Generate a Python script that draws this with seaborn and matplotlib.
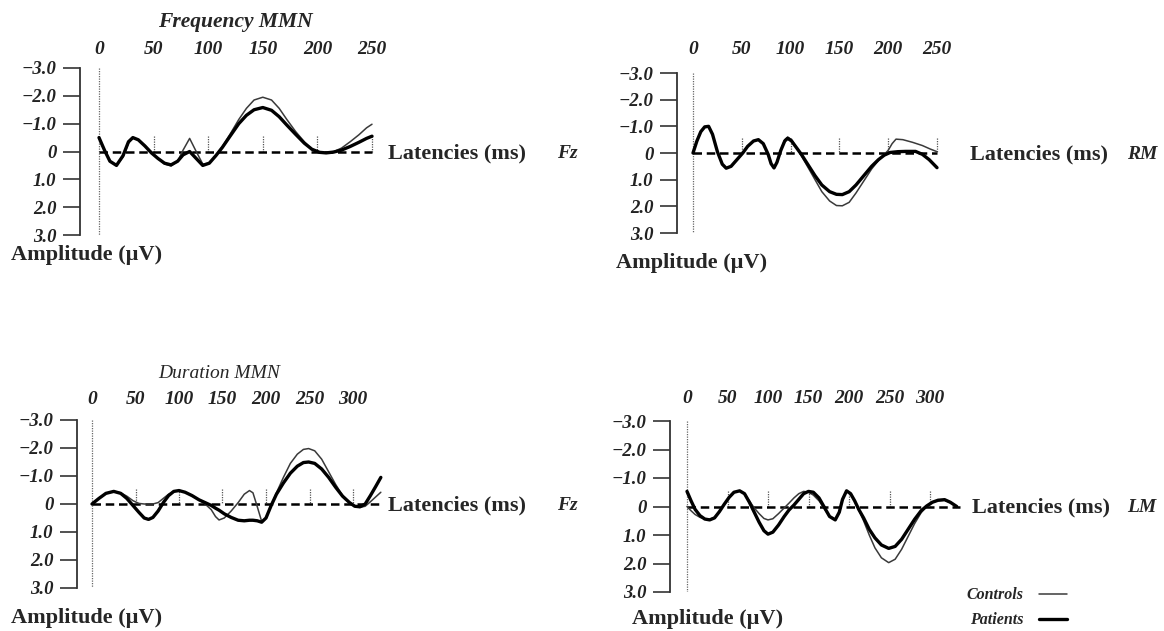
import numpy as np
import pandas as pd
import seaborn as sns
import matplotlib.pyplot as plt
from matplotlib.lines import Line2D

W, H = 1164, 631

# Data (amplitude in uV, latency in ms)

# Frequency MMN - Fz
FREQ_FZ_T = [0, 5, 10, 16, 22, 27, 31, 36, 42, 48, 54, 60, 66, 72, 77, 83, 89, 95, 101, 107,
             113, 120, 128, 135, 142, 150, 158, 165, 172, 180, 188, 195, 202, 208, 215, 222,
             230, 238, 245, 250]
FREQ_FZ_CONTROLS = [-0.5, -0.05, 0.35, 0.5, 0.2, -0.3, -0.48, -0.42, -0.22, 0.02, 0.25, 0.45,
                    0.52, 0.35, -0.05, -0.47, 0.0, 0.45, 0.42, 0.15, -0.18, -0.62, -1.15, -1.55,
                    -1.85, -1.95, -1.85, -1.55, -1.15, -0.72, -0.35, -0.08, 0.03, 0.05, 0.0,
                    -0.12, -0.35, -0.6, -0.85, -0.98]
FREQ_FZ_PATIENTS = [-0.5, -0.05, 0.35, 0.5, 0.15, -0.35, -0.5, -0.42, -0.2, 0.05, 0.25, 0.42,
                    0.48, 0.35, 0.12, 0.0, 0.25, 0.5, 0.42, 0.15, -0.15, -0.55, -1.0, -1.3,
                    -1.5, -1.58, -1.48, -1.25, -0.95, -0.62, -0.3, -0.08, 0.03, 0.05, 0.02,
                    -0.05, -0.18, -0.33, -0.47, -0.55]

# Frequency MMN - RM
FREQ_RM_T_C = [0, 4, 8, 12, 16, 20, 25, 30, 34, 39, 45, 51, 56, 62, 67, 72, 77, 80, 83, 86, 90,
               94, 97, 101, 106, 111, 118, 125, 132, 140, 147, 153, 160, 167, 175, 183, 190,
               196, 200, 204, 208, 215, 225, 235, 243, 250]
FREQ_RM_CONTROLS = [0.0, -0.45, -0.8, -0.98, -1.0, -0.7, -0.05, 0.42, 0.57, 0.5, 0.25, 0.0,
                    -0.25, -0.45, -0.5, -0.35, 0.05, 0.4, 0.55, 0.35, -0.12, -0.5, -0.6, -0.5,
                    -0.2, 0.1, 0.55, 1.0, 1.45, 1.8, 1.97, 1.98, 1.85, 1.5, 1.05, 0.6, 0.28,
                    0.05, -0.1, -0.35, -0.52, -0.5, -0.4, -0.28, -0.15, -0.05]
FREQ_RM_T_P = [0, 4, 8, 12, 16, 20, 25, 30, 34, 39, 45, 51, 56, 62, 67, 72, 77, 80, 83, 86, 90,
               94, 97, 101, 106, 111, 118, 125, 132, 140, 147, 153, 160, 167, 175, 183, 190,
               196, 202, 210, 218, 228, 235, 242, 250]
FREQ_RM_PATIENTS = [0.0, -0.45, -0.8, -0.98, -1.0, -0.7, -0.05, 0.42, 0.57, 0.5, 0.25, 0.0,
                    -0.25, -0.45, -0.5, -0.35, 0.05, 0.4, 0.56, 0.35, -0.1, -0.45, -0.55, -0.45,
                    -0.2, 0.05, 0.45, 0.85, 1.2, 1.45, 1.55, 1.56, 1.45, 1.2, 0.85, 0.5, 0.25,
                    0.08, -0.02, -0.05, -0.06, -0.06, 0.05, 0.25, 0.55]

# Duration MMN - Fz
DUR_FZ_T = [0, 8, 16, 25, 33, 40, 47, 54, 60, 65, 70, 76, 82, 88, 94, 100, 107, 115, 123, 130,
            137, 142, 146, 152, 160, 168, 175, 181, 185, 190, 195, 200, 206, 212, 220, 228, 236,
            243, 249, 256, 264, 272, 280, 288, 296, 302, 308, 314, 320, 326, 332]
DUR_FZ_CONTROLS = [0.0, -0.2, -0.38, -0.45, -0.4, -0.28, -0.12, -0.02, 0.0, 0.0, 0.0, -0.05,
                   -0.2, -0.35, -0.45, -0.48, -0.42, -0.3, -0.15, 0.0, 0.2, 0.45, 0.57, 0.5,
                   0.25, -0.05, -0.35, -0.48, -0.4, 0.1, 0.62, 0.5, 0.05, -0.4, -0.95, -1.45,
                   -1.78, -1.95, -1.98, -1.9, -1.6, -1.15, -0.7, -0.3, -0.05, 0.08, 0.12, 0.08,
                   -0.08, -0.25, -0.42]
DUR_FZ_PATIENTS = [0.0, -0.2, -0.38, -0.45, -0.38, -0.2, 0.05, 0.3, 0.5, 0.55, 0.48, 0.25,
                   -0.05, -0.3, -0.45, -0.48, -0.42, -0.3, -0.15, -0.05, 0.05, 0.15, 0.22, 0.35,
                   0.48, 0.58, 0.6, 0.58, 0.58, 0.6, 0.65, 0.5, 0.05, -0.35, -0.75, -1.1, -1.35,
                   -1.48, -1.5, -1.45, -1.25, -0.95, -0.6, -0.28, -0.05, 0.08, 0.1, 0.0, -0.3,
                   -0.62, -0.95]

# Duration MMN - LM
DUR_LM_T = [0, 5, 10, 16, 22, 28, 34, 40, 46, 52, 58, 65, 71, 77, 83, 89, 95, 100, 106, 113,
            120, 126, 132, 138, 144, 150, 156, 163, 170, 176, 183, 188, 192, 197, 202, 207, 212,
            218, 225, 232, 240, 249, 257, 265, 273, 281, 289, 296, 303, 310, 318, 325, 333]
DUR_LM_CONTROLS = [0.0, 0.15, 0.28, 0.38, 0.44, 0.45, 0.38, 0.18, -0.08, -0.32, -0.5, -0.55,
                   -0.45, -0.2, 0.05, 0.25, 0.42, 0.47, 0.43, 0.25, 0.05, -0.12, -0.3, -0.45,
                   -0.53, -0.5, -0.4, -0.2, 0.1, 0.35, 0.45, 0.2, -0.25, -0.55, -0.45, -0.2,
                   0.12, 0.5, 1.0, 1.45, 1.8, 1.97, 1.85, 1.5, 1.05, 0.6, 0.22, 0.0, -0.15,
                   -0.2, -0.22, -0.14, 0.0]
DUR_LM_PATIENTS = [-0.53, -0.2, 0.1, 0.32, 0.44, 0.47, 0.4, 0.18, -0.08, -0.32, -0.5, -0.55,
                   -0.45, -0.15, 0.2, 0.55, 0.85, 0.97, 0.9, 0.65, 0.35, 0.12, -0.05, -0.25,
                   -0.45, -0.53, -0.5, -0.3, 0.05, 0.35, 0.47, 0.2, -0.25, -0.55, -0.45, -0.2,
                   0.1, 0.4, 0.8, 1.1, 1.35, 1.47, 1.4, 1.15, 0.8, 0.45, 0.15, -0.02, -0.15,
                   -0.22, -0.24, -0.15, 0.0]

Y_TICKS = [-3, -2, -1, 0, 1, 2, 3]
Y_LABELS = ["\u22123.0", "\u22122.0", "\u22121.0", "0", "1.0", "2.0", "3.0"]
X_TICKS_FREQ = [0, 50, 100, 150, 200, 250]
X_TICKS_DUR = [0, 50, 100, 150, 200, 250, 300]

SERIF = ["Liberation Serif", "DejaVu Serif"]
THIN_C = "#3a3a3a"


def fpos(x, y):
    # pixel (from top-left) -> figure fraction
    return x / W, 1 - y / H


def draw_panel(fig, p):
    xmin = -(p["x0"] - p["spine"]) / p["scale"]
    left = p["spine"] / W
    width = (p["xmax"] - xmin) * p["scale"] / W
    bottom = 1 - p["ybot"] / H
    height = (p["ybot"] - p["ytop"]) / H
    ax = fig.add_axes([left, bottom, width, height])
    ax.set_xlim(xmin, p["xmax"])
    ax.set_ylim(3, -3)

    # reference lines
    ax.vlines(0, -3, 3, colors="#666666", linestyles=(0, (1, 1)), lw=0.9)
    ax.vlines(p["xticks"][1:], -0.55, 0, colors="#555555", linestyles=(0, (1, 1)), lw=0.9)
    ax.plot([0, p["zero_end"]], [0, 0], color="black", lw=1.8, ls=(0, (3.4, 1.9)))

    df_c = pd.DataFrame({"t": p["t_c"], "amp": p["controls"]})
    df_p = pd.DataFrame({"t": p["t_p"], "amp": p["patients"]})
    sns.lineplot(data=df_c, x="t", y="amp", ax=ax, color=THIN_C, lw=1.1,
                 estimator=None, sort=False, solid_joinstyle="round")
    sns.lineplot(data=df_p, x="t", y="amp", ax=ax, color="black", lw=2.4,
                 estimator=None, sort=False, solid_joinstyle="round", solid_capstyle="round")
    ax.set_xlabel("")
    ax.set_ylabel("")

    for s in ["top", "right", "bottom"]:
        ax.spines[s].set_visible(False)
    ax.spines["left"].set_bounds(-3, 3)
    ax.spines["left"].set_color("#333333")
    ax.spines["left"].set_linewidth(1.3)

    ax.set_yticks(Y_TICKS)
    ax.set_yticklabels(Y_LABELS, family=SERIF, weight="bold", style="italic", fontsize=13.5)
    ax.tick_params(axis="y", left=True, direction="out", length=12, width=1.2,
                   color="#333333", pad=5, labelcolor="#222222")

    ax.xaxis.set_ticks_position("top")
    ax.set_xticks(p["xticks"])
    ax.set_xticklabels([str(v) for v in p["xticks"]], family=SERIF, weight="bold",
                       style="italic", fontsize=14)
    ax.tick_params(axis="x", top=True, length=0, pad=p["xpad"], labelcolor="#222222")
    ax.patch.set_alpha(0)
    ax.grid(False)

    # axis texts
    fig.text(*fpos(*p["amp_xy"]), "Amplitude (\u00b5V)", family=SERIF, weight="bold",
             fontsize=16, ha="left", va="baseline")
    fig.text(*fpos(*p["lat_xy"]), "Latencies (ms)", family=SERIF, weight="bold",
             fontsize=16, ha="left", va="baseline")
    fig.text(*fpos(*p["site_xy"]), p["site"], family=SERIF, weight="bold", style="italic",
             fontsize=14, ha="left", va="baseline")
    return ax


def main():
    sns.set_style("white")
    plt.rcParams["font.family"] = SERIF

    fig = plt.figure(figsize=(W / 100, H / 100), dpi=100)

    panels = [
        dict(spine=80, x0=99, scale=1.092, ytop=68, ybot=235, xmax=262, zero_end=250,
             xticks=X_TICKS_FREQ, xpad=7, t_c=FREQ_FZ_T, controls=FREQ_FZ_CONTROLS,
             t_p=FREQ_FZ_T, patients=FREQ_FZ_PATIENTS, amp_xy=(11, 260),
             lat_xy=(388, 158), site_xy=(557, 158), site="Fz"),
        dict(spine=677, x0=693, scale=0.976, ytop=73, ybot=233, xmax=262, zero_end=250,
             xticks=X_TICKS_FREQ, xpad=11, t_c=FREQ_RM_T_C, controls=FREQ_RM_CONTROLS,
             t_p=FREQ_RM_T_P, patients=FREQ_RM_PATIENTS, amp_xy=(616, 268),
             lat_xy=(970, 159), site_xy=(1127, 159), site="RM"),
        dict(spine=77, x0=92, scale=0.87, ytop=420, ybot=588, xmax=345, zero_end=332,
             xticks=X_TICKS_DUR, xpad=9, t_c=DUR_FZ_T, controls=DUR_FZ_CONTROLS,
             t_p=DUR_FZ_T, patients=DUR_FZ_PATIENTS, amp_xy=(11, 623),
             lat_xy=(388, 510), site_xy=(557, 510), site="Fz"),
        dict(spine=670, x0=687, scale=0.81, ytop=421, ybot=592, xmax=345, zero_end=337,
             xticks=X_TICKS_DUR, xpad=10, t_c=DUR_LM_T, controls=DUR_LM_CONTROLS,
             t_p=DUR_LM_T, patients=DUR_LM_PATIENTS, amp_xy=(632, 624),
             lat_xy=(972, 512), site_xy=(1127, 512), site="LM"),
    ]
    for p in panels:
        draw_panel(fig, p)

    # titles
    fig.text(*fpos(235, 22), "Frequency MMN", family=SERIF, weight="bold", style="italic",
             fontsize=15.5, ha="center", va="center")
    fig.text(*fpos(219, 374), "Duration MMN", family=SERIF, style="italic",
             fontsize=14, ha="center", va="center")

    # legend (text before line)
    handles = [Line2D([], [], color=THIN_C, lw=1.1), Line2D([], [], color="black", lw=2.4)]
    fig.legend(handles, ["Controls", "Patients"], markerfirst=False, frameon=False,
               loc="upper left", bbox_to_anchor=fpos(952, 573), handlelength=1.7,
               handletextpad=1.0, labelspacing=0.55,
               prop=dict(family=SERIF, weight="bold", style="italic", size=11.5))

    fig.savefig("out.png", dpi=100)
    plt.close(fig)


if __name__ == "__main__":
    main()
